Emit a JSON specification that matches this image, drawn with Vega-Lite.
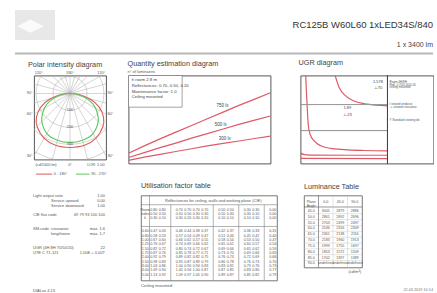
{
"$schema":"https://vega.github.io/schema/vega-lite/v6.json",
"padding":{"left":12,"top":10,"right":0,"bottom":0},
"background":"white",
"config":{
 "view":{"stroke":null},
 "font":"Liberation Sans",
 "text":{"font":"Liberation Sans","color":"#555"},
 "title":{"font":"Liberation Sans","fontWeight":"normal","fontSize":7.3,"color":"#444","anchor":"start","frame":"group","baseline":"alphabetic"},
 "axis":{"labelFont":"Liberation Sans","labelColor":"#555","labelFontSize":4.5,"domain":false,"ticks":false,"gridColor":"#999","gridWidth":0.6},
 "legend":{"labelFont":"Liberation Sans"}
},
"datasets":{
 "hdr":[{"title":"RC125B W60L60 1xLED34S/840","sub":"1 x 3400 lm"}],
 "polar_circ":[{"r":100},{"r":200},{"r":300},{"r":400}],
 "polar_rad":[{"x":0,"y":-600},{"x":155,"y":-580},{"x":300,"y":-520},{"x":424,"y":-424},{"x":520,"y":-300},{"x":580,"y":-155},{"x":600,"y":0},{"x":580,"y":155},{"x":520,"y":300},{"x":424,"y":424},{"x":300,"y":520},{"x":155,"y":580},{"x":0,"y":600},{"x":-155,"y":580},{"x":-300,"y":520},{"x":-424,"y":424},{"x":-520,"y":300},{"x":-580,"y":155},{"x":-600,"y":0},{"x":-580,"y":-155},{"x":-520,"y":-300},{"x":-424,"y":-424},{"x":-300,"y":-520},{"x":-155,"y":-580}],
 "polar_curve":[
  {"s":"0 - 180°","i":0,"x":0,"y":0},{"s":"0 - 180°","i":1,"x":45,"y":-4},{"s":"0 - 180°","i":2,"x":116,"y":-31},{"s":"0 - 180°","i":3,"x":172,"y":-80},{"s":"0 - 180°","i":4,"x":197,"y":-138},{"s":"0 - 180°","i":5,"x":194,"y":-194},{"s":"0 - 180°","i":6,"x":152,"y":-264},{"s":"0 - 180°","i":7,"x":82,"y":-307},{"s":"0 - 180°","i":8,"x":0,"y":-318},{"s":"0 - 180°","i":9,"x":-82,"y":-307},{"s":"0 - 180°","i":10,"x":-152,"y":-264},{"s":"0 - 180°","i":11,"x":-194,"y":-194},{"s":"0 - 180°","i":12,"x":-197,"y":-138},{"s":"0 - 180°","i":13,"x":-172,"y":-80},{"s":"0 - 180°","i":14,"x":-116,"y":-31},{"s":"0 - 180°","i":15,"x":-45,"y":-4},{"s":"0 - 180°","i":16,"x":0,"y":0},
  {"s":"90 - 270°","i":0,"x":0,"y":0},{"s":"90 - 270°","i":1,"x":35,"y":-3},{"s":"90 - 270°","i":2,"x":92,"y":-25},{"s":"90 - 270°","i":3,"x":136,"y":-63},{"s":"90 - 270°","i":4,"x":160,"y":-112},{"s":"90 - 270°","i":5,"x":166,"y":-166},{"s":"90 - 270°","i":6,"x":136,"y":-236},{"s":"90 - 270°","i":7,"x":74,"y":-275},{"s":"90 - 270°","i":8,"x":0,"y":-288},{"s":"90 - 270°","i":9,"x":-74,"y":-275},{"s":"90 - 270°","i":10,"x":-136,"y":-236},{"s":"90 - 270°","i":11,"x":-166,"y":-166},{"s":"90 - 270°","i":12,"x":-160,"y":-112},{"s":"90 - 270°","i":13,"x":-136,"y":-63},{"s":"90 - 270°","i":14,"x":-92,"y":-25},{"s":"90 - 270°","i":15,"x":-35,"y":-3},{"s":"90 - 270°","i":16,"x":0,"y":0}
 ],
 "polar_leg":[{"s":"0 - 180°"},{"s":"90 - 270°"}],
 "polar_lbl":[
  {"t":"90°","x":-212,"y":0,"p":"L"},{"t":"60°","x":-212,"y":-122,"p":"L"},{"t":"30°","x":-212,"y":-367,"p":"L"},
  {"t":"90°","x":212,"y":0,"p":"R"},{"t":"60°","x":212,"y":-122,"p":"R"},{"t":"30°","x":212,"y":-367,"p":"R"},
  {"t":"120°","x":-184,"y":106,"p":"T"},{"t":"180°","x":0,"y":106,"p":"T"},{"t":"120°","x":184,"y":106,"p":"T"},
  {"t":"100","x":0,"y":-100,"p":"C"},{"t":"200","x":0,"y":-200,"p":"C"},{"t":"300","x":0,"y":-300,"p":"C"},
  {"t":"(cd/1000 lm)","x":-212,"y":-420,"p":"BL"},{"t":"0°","x":0,"y":-420,"p":"BC"},{"t":"LOR: 1.00","x":212,"y":-420,"p":"BR"}
 ],
 "qty":[
  {"lx":"750 lx","area":10,"n":2.9},{"lx":"750 lx","area":20,"n":5.0},{"lx":"750 lx","area":30,"n":7.0},{"lx":"750 lx","area":40,"n":8.9},{"lx":"750 lx","area":50,"n":10.8},{"lx":"750 lx","area":60,"n":12.7},{"lx":"750 lx","area":70,"n":14.6},{"lx":"750 lx","area":80,"n":16.5},{"lx":"750 lx","area":90,"n":18.3},{"lx":"750 lx","area":100,"n":20.1},
  {"lx":"500 lx","area":10,"n":1.7},{"lx":"500 lx","area":20,"n":3.1},{"lx":"500 lx","area":30,"n":4.5},{"lx":"500 lx","area":40,"n":5.8},{"lx":"500 lx","area":50,"n":7.2},{"lx":"500 lx","area":60,"n":8.5},{"lx":"500 lx","area":70,"n":9.8},{"lx":"500 lx","area":80,"n":11.1},{"lx":"500 lx","area":90,"n":12.3},{"lx":"500 lx","area":100,"n":13.5},
  {"lx":"300 lx","area":10,"n":0.9},{"lx":"300 lx","area":20,"n":1.8},{"lx":"300 lx","area":30,"n":2.6},{"lx":"300 lx","area":40,"n":3.4},{"lx":"300 lx","area":50,"n":4.2},{"lx":"300 lx","area":60,"n":5.0},{"lx":"300 lx","area":70,"n":5.7},{"lx":"300 lx","area":80,"n":6.4},{"lx":"300 lx","area":90,"n":7.1},{"lx":"300 lx","area":100,"n":7.8}
 ],
 "qty_box":[{"t":"h room  2.8 m\nReflectances: 0.70, 0.50, 0.20\nMaintenance factor: 1.0\nCeiling mounted","yt":"n° of luminaires"}],
 "qty_lbl":[{"t":"750 lx","a":69.5,"n":16.2},{"t":"500 lx","a":68.5,"n":10.9},{"t":"300 lx","a":71,"n":6.9}],
 "ugr":[
  {"c":"1","i":0,"x":4.37,"y":19.35},{"c":"1","i":1,"x":4.45,"y":17.8},{"c":"1","i":2,"x":4.55,"y":16.3},{"c":"1","i":3,"x":4.74,"y":13.7},{"c":"1","i":4,"x":5.0,"y":12.6},{"c":"1","i":5,"x":5.62,"y":11.8},{"c":"1","i":6,"x":6.59,"y":11.24},{"c":"1","i":7,"x":8.0,"y":10.95},{"c":"1","i":8,"x":10.0,"y":10.8},{"c":"1","i":9,"x":13.0,"y":10.7},{"c":"1","i":10,"x":16.4,"y":10.66},
  {"c":"2","i":0,"x":8.7,"y":19.35},{"c":"2","i":1,"x":8.79,"y":19.1},{"c":"2","i":2,"x":9.29,"y":17.96},{"c":"2","i":3,"x":10.26,"y":17.0},{"c":"2","i":4,"x":11.5,"y":16.4},{"c":"2","i":5,"x":13.46,"y":16.04},{"c":"2","i":6,"x":16.4,"y":15.85},
  {"c":"3","i":0,"x":3.6,"y":10.4},{"c":"3","i":1,"x":4.2,"y":10.22},{"c":"3","i":2,"x":5.5,"y":10.16},{"c":"3","i":3,"x":16.4,"y":10.15},
  {"c":"4","i":0,"x":3.6,"y":9.79},{"c":"4","i":1,"x":16.4,"y":9.77}
 ],
 "ugr_lbl":[{"t":"1.89","x":10.5,"y":15.65},{"t":"⊥.23","x":10.5,"y":14.85},{"t":"1.578","x":15.0,"y":18.65},{"t":"⊥.70","x":15.0,"y":17.96}],
 "ugr_leg":[{"t":"Room 4H/8H","y":18.65},{"t":"Refl. 0.70/0.50/0.20","y":18.34},{"t":"ceiling mounted","y":18.04},{"t":"I   viewed endwise","y":16.04},{"t":"⊥  viewed crosswise","y":15.71},{"t":"Y  Standard viewing dir.","y":14.27}],
 "info":[
  {"line":0,"col":"a","text":"Light output ratio"},{"line":0,"col":"c","text":"1.00"},
  {"line":1,"col":"b","text":"Service upward"},{"line":1,"col":"c","text":"0.00"},
  {"line":2,"col":"b","text":"Service downward"},{"line":2,"col":"c","text":"1.00"},
  {"line":4,"col":"a","text":"CIE flux code"},{"line":4,"col":"c","text":"49 79 93 100 100"},
  {"line":7,"col":"a","text":"SM-code"},{"line":7,"col":"b","text":"crosswise"},{"line":7,"col":"c","text":"max. 1.6"},
  {"line":8,"col":"b","text":"lengthwise"},{"line":8,"col":"c","text":"max. 1.7"},
  {"line":11,"col":"a","text":"UGR (4H 8H 70/50/20)"},{"line":11,"col":"c","text":"22"},
  {"line":12,"col":"a","text":"UTE C 71-121"},{"line":12,"col":"c","text":"1.00E + 0.00T"},
  {"line":20,"col":"a","text":"DIALux 4.13"}
 ],
 "uf":[
  {"row":2,"k":"Room","a":0.8,"b":0.8,"c":0.7,"d":0.7,"e":0.7,"f":0.7,"g":0.5,"h":0.5,"i":0.3,"j":0.3,"m":0},
  {"row":3,"k":"index","a":0.5,"b":0.5,"c":0.5,"d":0.5,"e":0.3,"f":0.3,"g":0.5,"h":0.3,"i":0.3,"j":0.1,"m":0},
  {"row":4,"k":"k","a":0.3,"b":0.1,"c":0.3,"d":0.2,"e":0.3,"f":0.1,"g":0.1,"h":0.1,"i":0.1,"j":0.1,"m":0},
  {"row":7,"k":"0.60","a":0.47,"b":0.43,"c":0.46,"d":0.44,"e":0.38,"f":0.37,"g":0.42,"h":0.37,"i":0.36,"j":0.33,"m":0.31},
  {"row":8,"k":"0.80","a":0.58,"b":0.53,"c":0.57,"d":0.54,"e":0.49,"f":0.47,"g":0.51,"h":0.46,"i":0.45,"j":0.42,"m":0.40},
  {"row":9,"k":"1.00","a":0.67,"b":0.60,"c":0.66,"d":0.62,"e":0.57,"f":0.55,"g":0.58,"h":0.54,"i":0.53,"j":0.50,"m":0.47},
  {"row":10,"k":"1.25","a":0.76,"b":0.67,"c":0.74,"d":0.69,"e":0.66,"f":0.62,"g":0.65,"h":0.61,"i":0.60,"j":0.57,"m":0.54},
  {"row":11,"k":"1.50","a":0.82,"b":0.72,"c":0.80,"d":0.74,"e":0.72,"f":0.67,"g":0.69,"h":0.66,"i":0.65,"j":0.62,"m":0.59},
  {"row":12,"k":"1.75","a":0.87,"b":0.76,"c":0.85,"d":0.78,"e":0.77,"f":0.71,"g":0.73,"h":0.70,"i":0.69,"j":0.66,"m":0.63},
  {"row":13,"k":"2.00","a":0.92,"b":0.79,"c":0.89,"d":0.82,"e":0.82,"f":0.75,"g":0.76,"h":0.73,"i":0.72,"j":0.69,"m":0.66},
  {"row":14,"k":"2.50","a":0.98,"b":0.83,"c":0.95,"d":0.87,"e":0.89,"f":0.79,"g":0.80,"h":0.78,"i":0.76,"j":0.73,"m":0.70},
  {"row":15,"k":"3.00","a":1.03,"b":0.86,"c":1.00,"d":0.90,"e":0.94,"f":0.83,"g":0.83,"h":0.81,"i":0.79,"j":0.76,"m":0.73},
  {"row":16,"k":"4.00","a":1.09,"b":0.90,"c":1.05,"d":0.94,"e":1.00,"f":0.87,"g":0.87,"h":0.85,"i":0.83,"j":0.80,"m":0.77},
  {"row":17,"k":"5.00","a":1.13,"b":0.92,"c":1.09,"d":0.97,"e":1.05,"f":0.90,"g":0.89,"h":0.87,"i":0.85,"j":0.82,"m":0.79}
 ],
 "uf_head":[{"t":"Reflectances for ceiling, walls and working plane (CIE)","cap":"Ceiling mounted"}],
 "uf_sep":[{"s":"s1"},{"s":"s2"},{"s":"s3"},{"s":"s4"}],
 "lum":[
  {"row":1,"g":"45.0","c0":3005,"c45":2879,"c90":2886},
  {"row":2,"g":"50.0","c0":2861,"c45":2692,"c90":2696},
  {"row":3,"g":"55.0","c0":2703,"c45":2499,"c90":2497},
  {"row":4,"g":"60.0","c0":2536,"c45":2316,"c90":2309},
  {"row":5,"g":"65.0","c0":2361,"c45":2138,"c90":2116},
  {"row":6,"g":"70.0","c0":2183,"c45":1960,"c90":1913},
  {"row":7,"g":"75.0","c0":1999,"c45":1755,"c90":1697},
  {"row":8,"g":"80.0","c0":1853,"c45":1572,"c90":1509},
  {"row":9,"g":"85.0","c0":1702,"c45":1397,"c90":1389},
  {"row":10,"g":"90.0"}
 ],
 "lum_head":[{"key":"g","t":"Plane\nAngle"},{"key":"c0","t":"0.0"},{"key":"c45","t":"45.0"},{"key":"c90","t":"90.0"}],
 "lum_cap":[{"t":"(cd/m²)"}],
 "foot":[{"t":"22.03.2019 10:14"}]
},
"spacing":3.5,
"vconcat":[
 {"width":418,"height":45,"data":{"name":"hdr"},
  "layer":[
   {"mark":{"type":"rect","fill":"#e8e8e8"},"encoding":{"x":{"datum":0,"type":"quantitative","scale":{"domain":[0,1]},"axis":null},"x2":{"datum":0.0957},"y":{"datum":0,"type":"quantitative","scale":{"domain":[0,1],"reverse":true},"axis":null},"y2":{"datum":0.667}}},
   {"mark":{"type":"point","shape":"M-1,0L0,-0.5L1,0L0,0.5Z","size":700,"filled":true,"fill":"#fbfbfb","opacity":1,"strokeWidth":0},"encoding":{"x":{"datum":0.037,"type":"quantitative","scale":{"domain":[0,1]},"axis":null},"y":{"datum":0.36,"type":"quantitative","scale":{"domain":[0,1],"reverse":true},"axis":null}}},
   {"mark":{"type":"text","align":"right","baseline":"alphabetic","fontSize":9.5,"color":"#333"},"encoding":{"x":{"datum":1,"type":"quantitative","scale":{"domain":[0,1]},"axis":null},"y":{"datum":0.411,"type":"quantitative","scale":{"domain":[0,1],"reverse":true},"axis":null},"text":{"field":"title"}}},
   {"mark":{"type":"text","align":"right","baseline":"alphabetic","fontSize":7,"color":"#444"},"encoding":{"x":{"datum":1,"type":"quantitative","scale":{"domain":[0,1]},"axis":null},"y":{"datum":0.833,"type":"quantitative","scale":{"domain":[0,1],"reverse":true},"axis":null},"text":{"field":"sub"}}},
   {"mark":{"type":"rule","stroke":"#b8b8b8","strokeWidth":2},"encoding":{"y":{"datum":0.967,"type":"quantitative","scale":{"domain":[0,1],"reverse":true},"axis":null}}}
  ]},
 {"spacing":5,"vconcat":[
  {"spacing":12.5,"hconcat":[
   {"spacing":18,"bounds":"flush","hconcat":[
    {"width":1,"height":1,"data":{"values":[{}]},"mark":{"type":"point","opacity":0}},
    {"width":72,"height":84,"view":{"stroke":"#444","strokeWidth":0.9},
     "title":{"text":"Polar intensity diagram","dx":-6,"offset":2.7},
     "layer":[
      {"data":{"name":"polar_circ"},"mark":{"type":"point","shape":"circle","filled":false,"color":"#aaa","strokeWidth":0.5,"opacity":1,"clip":true},
       "encoding":{"x":{"datum":0,"type":"quantitative","scale":{"domain":[-212,212]},"axis":null},"y":{"datum":0,"type":"quantitative","scale":{"domain":[-389,106]},"axis":null},"size":{"field":"r","type":"quantitative","scale":{"type":"pow","exponent":2,"domain":[0,400],"range":[0,18453]},"legend":null}}},
      {"data":{"name":"polar_rad"},"mark":{"type":"rule","color":"#aaa","strokeWidth":0.5,"clip":true},
       "encoding":{"x":{"field":"x","type":"quantitative","scale":{"domain":[-212,212]},"axis":null},"y":{"field":"y","type":"quantitative","scale":{"domain":[-389,106]},"axis":null},"x2":{"datum":0},"y2":{"datum":0}}},
      {"data":{"name":"polar_curve"},"mark":{"type":"line","interpolate":"cardinal","strokeWidth":1.1,"clip":true},
       "encoding":{"x":{"field":"x","type":"quantitative","scale":{"domain":[-212,212]},"axis":null},"y":{"field":"y","type":"quantitative","scale":{"domain":[-389,106]},"axis":null},"order":{"field":"i","type":"quantitative"},
        "color":{"field":"s","type":"nominal","scale":{"domain":["0 - 180°","90 - 270°"],"range":["#e05a5a","#5cc85c"]},"legend":null}}},
      {"data":{"name":"polar_leg"},"transform":[{"filter":"datum.s == '0 - 180°'"}],"mark":{"type":"rule","strokeWidth":1},
       "encoding":{"x":{"datum":-200,"type":"quantitative","scale":{"domain":[-212,212]},"axis":null},"x2":{"datum":-105},"y":{"datum":-475,"type":"quantitative","scale":{"domain":[-389,106]},"axis":null},
        "color":{"field":"s","type":"nominal","scale":{"domain":["0 - 180°","90 - 270°"],"range":["#e05a5a","#5cc85c"]},"legend":null}}},
      {"data":{"name":"polar_leg"},"transform":[{"filter":"datum.s == '90 - 270°'"}],"mark":{"type":"rule","strokeWidth":1},
       "encoding":{"x":{"datum":35,"type":"quantitative","scale":{"domain":[-212,212]},"axis":null},"x2":{"datum":115},"y":{"datum":-475,"type":"quantitative","scale":{"domain":[-389,106]},"axis":null},
        "color":{"field":"s","type":"nominal","scale":{"domain":["0 - 180°","90 - 270°"],"range":["#e05a5a","#5cc85c"]},"legend":null}}},
      {"data":{"name":"polar_leg"},"transform":[{"filter":"datum.s == '0 - 180°'"}],"mark":{"type":"text","align":"left","baseline":"middle","fontSize":3.8},
       "encoding":{"x":{"datum":-95,"type":"quantitative","scale":{"domain":[-212,212]},"axis":null},"y":{"datum":-475,"type":"quantitative","scale":{"domain":[-389,106]},"axis":null},"text":{"field":"s"}}},
      {"data":{"name":"polar_leg"},"transform":[{"filter":"datum.s == '90 - 270°'"}],"mark":{"type":"text","align":"left","baseline":"middle","fontSize":3.8},
       "encoding":{"x":{"datum":125,"type":"quantitative","scale":{"domain":[-212,212]},"axis":null},"y":{"datum":-475,"type":"quantitative","scale":{"domain":[-389,106]},"axis":null},"text":{"field":"s"}}},
      {"data":{"name":"polar_lbl"},"transform":[{"filter":"datum.p=='L'||datum.p=='BR'"}],"mark":{"type":"text","align":"right","baseline":"middle","fontSize":3.8,"dx":-1.5},
       "encoding":{"x":{"field":"x","type":"quantitative","scale":{"domain":[-212,212]},"axis":null},"y":{"field":"y","type":"quantitative","scale":{"domain":[-389,106]},"axis":null},"text":{"field":"t"}}},
      {"data":{"name":"polar_lbl"},"transform":[{"filter":"datum.p=='R'||datum.p=='BL'"}],"mark":{"type":"text","align":"left","baseline":"middle","fontSize":3.8,"dx":1.5},
       "encoding":{"x":{"field":"x","type":"quantitative","scale":{"domain":[-212,212]},"axis":null},"y":{"field":"y","type":"quantitative","scale":{"domain":[-389,106]},"axis":null},"text":{"field":"t"}}},
      {"data":{"name":"polar_lbl"},"transform":[{"filter":"datum.p=='C'||datum.p=='BC'"}],"mark":{"type":"text","align":"center","baseline":"middle","fontSize":3.8},
       "encoding":{"x":{"field":"x","type":"quantitative","scale":{"domain":[-212,212]},"axis":null},"y":{"field":"y","type":"quantitative","scale":{"domain":[-389,106]},"axis":null},"text":{"field":"t"}}},
      {"data":{"name":"polar_lbl"},"transform":[{"filter":"datum.p=='T'"}],"mark":{"type":"text","align":"center","baseline":"bottom","fontSize":3.8,"dy":-1},
       "encoding":{"x":{"field":"x","type":"quantitative","scale":{"domain":[-212,212]},"axis":null},"y":{"field":"y","type":"quantitative","scale":{"domain":[-389,106]},"axis":null},"text":{"field":"t"}}}
     ]}
   ]},
   {"spacing":30,"bounds":"flush","hconcat":[
    {"width":142,"height":88,"view":{"stroke":"#444","strokeWidth":0.9},
     "title":{"text":"Quantity estimation diagram","dx":-1,"offset":3},
     "layer":[
      {"data":{"name":"qty"},"mark":{"type":"line","color":"#dd5a66","strokeWidth":1.2,"clip":true},
       "encoding":{"x":{"field":"area","type":"quantitative","scale":{"domain":[10,100]},"axis":{"title":null,"values":[10,20,30,40,50,60,70,80,90,100],"labelExpr":"datum.value == 100 ? '(m²)' : (datum.value % 20 == 10 ? datum.label : '')","grid":true,"labelPadding":2.5}},
        "y":{"field":"n","type":"quantitative","scale":{"domain":[0,25]},"axis":{"title":null,"values":[0,5,10,15,20,25],"grid":true,"labelPadding":3}},
        "detail":{"field":"lx","type":"nominal"}}},
      {"data":{"name":"qty_box"},"mark":{"type":"rect","fill":"white","stroke":"#666","strokeWidth":0.6},
       "encoding":{"x":{"datum":10,"type":"quantitative","scale":{"domain":[10,100]},"axis":null},"x2":{"datum":44},"y":{"datum":25,"type":"quantitative","scale":{"domain":[0,25]},"axis":null},"y2":{"datum":16}}},
      {"data":{"name":"qty_box"},"mark":{"type":"text","align":"left","baseline":"top","fontSize":4.3,"lineBreak":"\n","lineHeight":5.6,"color":"#444"},
       "encoding":{"x":{"datum":12,"type":"quantitative","scale":{"domain":[10,100]},"axis":null},"y":{"datum":24.2,"type":"quantitative","scale":{"domain":[0,25]},"axis":null},"text":{"field":"t"}}},
      {"data":{"name":"qty_box"},"mark":{"type":"text","align":"left","baseline":"bottom","fontSize":4,"dy":-1.5,"dx":-1},
       "encoding":{"x":{"datum":10,"type":"quantitative","scale":{"domain":[10,100]},"axis":null},"y":{"datum":25,"type":"quantitative","scale":{"domain":[0,25]},"axis":null},"text":{"field":"yt"}}},
      {"data":{"name":"qty_lbl"},"mark":{"type":"text","fontSize":4.5,"color":"#444","baseline":"middle"},
       "encoding":{"x":{"field":"a","type":"quantitative","scale":{"domain":[10,100]},"axis":null},"y":{"field":"n","type":"quantitative","scale":{"domain":[0,25]},"axis":null},"text":{"field":"t"}}}
     ]},
    {"width":133,"height":88,"view":{"stroke":"#444","strokeWidth":0.9},
     "title":{"text":"UGR diagram","dx":-2,"offset":8.5},
     "layer":[
      {"data":{"name":"ugr"},"mark":{"type":"line","color":"#dd5a66","strokeWidth":1.2,"clip":true,"interpolate":"monotone"},
       "encoding":{"x":{"field":"x","type":"quantitative","scale":{"domain":[3.6,23.17]},"axis":{"title":null,"values":[4,8,12,16],"format":".1f","grid":true,"gridOpacity":{"condition":{"test":"datum.value == 8 || datum.value == 12","value":1},"value":0},"labelFontSize":4,"labelPadding":2.5}},
        "y":{"field":"y","type":"quantitative","scale":{"domain":[9.2,19.35]},"axis":{"title":null,"values":[10,13,16,19],"format":".1f","grid":false,"labelFontSize":4,"labelPadding":2}},
        "detail":{"field":"c","type":"nominal"},"order":{"field":"i","type":"quantitative"}}},
      {"data":{"name":"ugr_lbl"},"mark":{"type":"rule","color":"#999","strokeWidth":0.6},
       "encoding":{"x":{"datum":3.6,"type":"quantitative","scale":{"domain":[3.6,23.17]},"axis":null},"x2":{"datum":16.4},"y":{"datum":13,"type":"quantitative","scale":{"domain":[9.2,19.35]},"axis":null}}},
      {"data":{"name":"ugr_lbl"},"mark":{"type":"rule","color":"#999","strokeWidth":0.6},
       "encoding":{"x":{"datum":3.6,"type":"quantitative","scale":{"domain":[3.6,23.17]},"axis":null},"x2":{"datum":16.4},"y":{"datum":16,"type":"quantitative","scale":{"domain":[9.2,19.35]},"axis":null}}},
      {"data":{"name":"ugr_lbl"},"mark":{"type":"rule","color":"#444","strokeWidth":0.9},
       "encoding":{"x":{"datum":16.4,"type":"quantitative","scale":{"domain":[3.6,23.17]},"axis":null}}},
      {"data":{"name":"ugr_lbl"},"mark":{"type":"text","fontSize":4,"color":"#444","baseline":"middle"},
       "encoding":{"x":{"field":"x","type":"quantitative","scale":{"domain":[3.6,23.17]},"axis":null},"y":{"field":"y","type":"quantitative","scale":{"domain":[9.2,19.35]},"axis":null},"text":{"field":"t"}}},
      {"data":{"name":"ugr_leg"},"mark":{"type":"text","fontSize":3,"color":"#555","align":"left","baseline":"middle"},
       "encoding":{"x":{"datum":16.7,"type":"quantitative","scale":{"domain":[3.6,23.17]},"axis":null},"y":{"field":"y","type":"quantitative","scale":{"domain":[9.2,19.35]},"axis":null},"text":{"field":"t"}}}
     ]}
   ]}
  ]},
  {"spacing":35,"hconcat":[
   {"spacing":17,"bounds":"flush","hconcat":[
    {"width":1,"height":1,"data":{"values":[{}]},"mark":{"type":"point","opacity":0}},
    {"width":72,"height":99,"data":{"name":"info"},
     "layer":[
      {"transform":[{"filter":"datum.col != 'c'"}],"mark":{"type":"text","align":"left","baseline":"middle","fontSize":4},
       "encoding":{"x":{"field":"col","type":"nominal","scale":{"type":"point","domain":["a","b","p","q","c"],"padding":0},"axis":null},"y":{"field":"line","type":"quantitative","scale":{"domain":[-0.21,20.85],"reverse":true},"axis":null},"text":{"field":"text"}}},
      {"transform":[{"filter":"datum.col == 'c'"}],"mark":{"type":"text","align":"right","baseline":"middle","fontSize":4},
       "encoding":{"x":{"field":"col","type":"nominal","scale":{"type":"point","domain":["a","b","p","q","c"],"padding":0},"axis":null},"y":{"field":"line","type":"quantitative","scale":{"domain":[-0.21,20.85],"reverse":true},"axis":null},"text":{"field":"text"}}}
     ]}
   ]},
   {"spacing":27,"bounds":"flush","hconcat":[
    {"width":136,"height":85,"view":{"stroke":"#555","strokeWidth":0.8},
     "title":{"text":"Utilisation factor table","offset":6},
     "layer":[
      {"data":{"name":"uf"},"transform":[{"fold":["a","b","c","d","e","f","g","h","i","j","m"],"as":["key","val"]}],
       "mark":{"type":"text","fontSize":3.6,"baseline":"middle"},
       "encoding":{"x":{"field":"key","type":"nominal","scale":{"type":"band","domain":["k","a","b","s1","c","d","e","f","s2","g","h","s3","i","j","s4","m"],"paddingInner":0,"paddingOuter":0},"axis":null},
        "y":{"field":"row","type":"quantitative","scale":{"domain":[-1.22,18.32],"reverse":true},"axis":null},
        "text":{"field":"val","type":"quantitative","format":".2f"}}},
      {"data":{"name":"uf"},"mark":{"type":"text","fontSize":3.6,"baseline":"middle"},
       "encoding":{"x":{"datum":"k","type":"nominal","scale":{"type":"band","domain":["k","a","b","s1","c","d","e","f","s2","g","h","s3","i","j","s4","m"],"paddingInner":0,"paddingOuter":0},"axis":null},
        "y":{"field":"row","type":"quantitative","scale":{"domain":[-1.22,18.32],"reverse":true},"axis":null},"text":{"field":"k"}}},
      {"data":{"name":"uf_head"},"mark":{"type":"text","fontSize":4,"baseline":"middle"},
       "encoding":{"x":{"datum":"s2","type":"nominal","scale":{"type":"band","domain":["k","a","b","s1","c","d","e","f","s2","g","h","s3","i","j","s4","m"],"paddingInner":0,"paddingOuter":0},"axis":null},
        "y":{"datum":0,"type":"quantitative","scale":{"domain":[-1.22,18.32],"reverse":true},"axis":null},"text":{"field":"t"}}},
      {"data":{"name":"uf_head"},"mark":{"type":"text","fontSize":4.3,"align":"left","baseline":"middle"},
       "encoding":{"x":{"datum":"k","type":"nominal","bandPosition":0,"scale":{"type":"band","domain":["k","a","b","s1","c","d","e","f","s2","g","h","s3","i","j","s4","m"],"paddingInner":0,"paddingOuter":0},"axis":null},
        "y":{"datum":19.65,"type":"quantitative","scale":{"domain":[-1.22,18.32],"reverse":true},"axis":null},"text":{"field":"cap"}}},
      {"data":{"name":"uf_head"},"mark":{"type":"rule","stroke":"#666","strokeWidth":0.5},
       "encoding":{"y":{"datum":0.9,"type":"quantitative","scale":{"domain":[-1.22,18.32],"reverse":true},"axis":null}}},
      {"data":{"name":"uf_head"},"mark":{"type":"rule","stroke":"#666","strokeWidth":0.5},
       "encoding":{"y":{"datum":5.9,"type":"quantitative","scale":{"domain":[-1.22,18.32],"reverse":true},"axis":null}}},
      {"data":{"name":"uf_sep"},"mark":{"type":"rule","stroke":"#666","strokeWidth":0.5},
       "encoding":{"x":{"field":"s","type":"nominal","scale":{"type":"band","domain":["k","a","b","s1","c","d","e","f","s2","g","h","s3","i","j","s4","m"],"paddingInner":0,"paddingOuter":0},"axis":null},
        "y":{"datum":0.9,"type":"quantitative","scale":{"domain":[-1.22,18.32],"reverse":true},"axis":null},"y2":{"datum":18.32}}},
      {"data":{"name":"uf_head"},"mark":{"type":"rule","stroke":"#666","strokeWidth":0.5},
       "encoding":{"x":{"datum":"a","type":"nominal","bandPosition":0,"scale":{"type":"band","domain":["k","a","b","s1","c","d","e","f","s2","g","h","s3","i","j","s4","m"],"paddingInner":0,"paddingOuter":0},"axis":null}}}
     ]},
    {"width":58,"height":72,"view":{"stroke":"#555","strokeWidth":0.8},
     "title":{"text":"Luminance Table","offset":5},
     "layer":[
      {"data":{"name":"lum"},"transform":[{"fold":["c0","c45","c90"],"as":["key","val"]}],
       "mark":{"type":"text","fontSize":3.6,"baseline":"middle"},
       "encoding":{"x":{"field":"key","type":"nominal","scale":{"type":"band","domain":["g","c0","c45","c90"],"paddingInner":0,"paddingOuter":0},"axis":null},
        "y":{"field":"row","type":"quantitative","scale":{"domain":[-1.615,10.69],"reverse":true},"axis":null},"text":{"field":"val"}}},
      {"data":{"name":"lum"},"mark":{"type":"text","fontSize":3.6,"baseline":"middle"},
       "encoding":{"x":{"datum":"g","type":"nominal","scale":{"type":"band","domain":["g","c0","c45","c90"],"paddingInner":0,"paddingOuter":0},"axis":null},
        "y":{"field":"row","type":"quantitative","scale":{"domain":[-1.615,10.69],"reverse":true},"axis":null},"text":{"field":"g"}}},
      {"data":{"name":"lum_head"},"mark":{"type":"text","fontSize":3.6,"baseline":"middle","lineBreak":"\n","lineHeight":4},
       "encoding":{"x":{"field":"key","type":"nominal","scale":{"type":"band","domain":["g","c0","c45","c90"],"paddingInner":0,"paddingOuter":0},"axis":null},
        "y":{"datum":-0.5,"type":"quantitative","scale":{"domain":[-1.615,10.69],"reverse":true},"axis":null},"text":{"field":"t"}}},
      {"data":{"name":"lum_cap"},"mark":{"type":"text","fontSize":4,"baseline":"middle"},
       "encoding":{"x":{"datum":"c90","type":"nominal","scale":{"type":"band","domain":["g","c0","c45","c90"],"paddingInner":0,"paddingOuter":0},"axis":null},
        "y":{"datum":11.4,"type":"quantitative","scale":{"domain":[-1.615,10.69],"reverse":true},"axis":null},"text":{"field":"t"}}},
      {"data":{"name":"lum_cap"},"mark":{"type":"rule","stroke":"#555","strokeWidth":0.6},
       "encoding":{"y":{"datum":0.35,"type":"quantitative","scale":{"domain":[-1.615,10.69],"reverse":true},"axis":null}}},
      {"data":{"name":"lum"},"transform":[{"filter":"datum.row < 10"}],"mark":{"type":"rule","stroke":"#bbb","strokeWidth":0.4,"yOffset":2.925},
       "encoding":{"y":{"field":"row","type":"quantitative","scale":{"domain":[-1.615,10.69],"reverse":true},"axis":null}}},
      {"data":{"name":"lum_cap"},"mark":{"type":"rule","stroke":"#555","strokeWidth":0.6},
       "encoding":{"x":{"datum":"c0","type":"nominal","bandPosition":0,"scale":{"type":"band","domain":["g","c0","c45","c90"],"paddingInner":0,"paddingOuter":0},"axis":null}}},
      {"data":{"name":"lum_head"},"transform":[{"filter":"datum.key=='c45'||datum.key=='c90'"}],"mark":{"type":"rule","stroke":"#bbb","strokeWidth":0.4},
       "encoding":{"x":{"field":"key","type":"nominal","bandPosition":0,"scale":{"type":"band","domain":["g","c0","c45","c90"],"paddingInner":0,"paddingOuter":0},"axis":null}}}
     ]},
    {"width":44,"height":99,"data":{"name":"foot"},
     "mark":{"type":"text","align":"right","baseline":"middle","fontSize":3.8,"color":"#777"},
     "encoding":{"x":{"datum":1,"type":"quantitative","scale":{"domain":[0,1]},"axis":null},"y":{"datum":0.95,"type":"quantitative","scale":{"domain":[0,1],"reverse":true},"axis":null},"text":{"field":"t"}}}
   ]}
  ]}
 ]}
]
}
